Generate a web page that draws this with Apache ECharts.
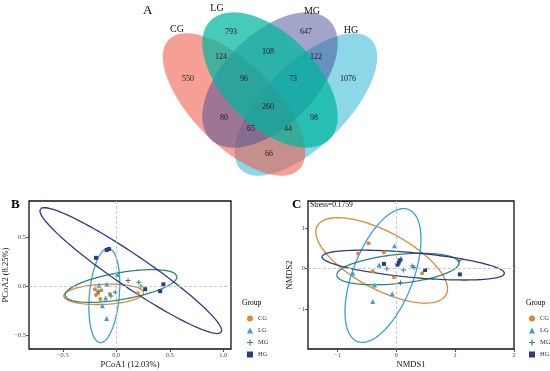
<!DOCTYPE html>
<html><head><meta charset="utf-8">
<script src="https://cdn.jsdelivr.net/npm/echarts@6/dist/echarts.min.js"></script>
<style>html,body{margin:0;padding:0;background:#fff}#c{width:550px;height:371px}</style>
</head><body><div id="c"></div>
<script>
// ---------- DATA ----------
const groups = ['CG', 'LG', 'MG', 'HG'];
// Venn (panel A)
const vennSetLabels = ['CG', 'LG', 'MG', 'HG'];
const vennRegions = ['CG', 'LG', 'MG', 'HG', 'CG&LG', 'LG&MG', 'MG&HG', 'CG&LG&MG', 'LG&MG&HG',
  'CG&LG&MG&HG', 'CG&MG', 'LG&HG', 'CG&MG&HG', 'CG&LG&HG', 'CG&HG'];
const vennCounts = [550, 793, 647, 1076, 124, 108, 122, 96, 73, 260, 80, 98, 65, 44, 66];
// PCoA (panel B)
const pcoaCG = [[-0.20, -0.03], [-0.14, -0.04], [-0.19, -0.09], [-0.06, -0.08], [0.20, -0.07], [-0.15, -0.13], [-0.17, -0.07]];
const pcoaLG = [[-0.16, 0.01], [-0.09, 0.02], [-0.10, -0.12], [-0.13, -0.20], [-0.09, -0.33], [0.01, 0.12]];
const pcoaMG = [[0.11, 0.06], [0.21, 0.04], [0.23, 0.00], [-0.01, -0.06], [-0.17, -0.05], [-0.05, -0.10]];
const pcoaHG = [[-0.19, 0.29], [-0.09, 0.37], [-0.07, 0.38], [0.27, -0.03], [0.44, 0.02], [0.41, -0.05]];
// confidence ellipses: [cx, cy, ux, uy, vx, vy] (centre + conjugate half-axes, data units)
const pcoaEllipses = [
  [-0.118, -0.082, 0.374, 0.020, 0.014, -0.102],
  [-0.112, -0.094, 0.039, 0.482, 0.139, -0.013],
  [0.044, 0.003, 0.523, 0.098, 0.021, -0.135],
  [0.135, 0.160, 0.846, -0.628, -0.084, -0.135]
];
const pcoaXTicks = [-0.5, 0, 0.5, 1.0];
const pcoaYTicks = [-0.5, 0, 0.5];
// NMDS (panel C)
const nmdsCG = [[-0.47, 0.63], [-0.65, 0.38], [-0.21, 0.40], [-0.40, -0.06], [-0.04, -0.21], [0.44, -0.11]];
const nmdsLG = [[-0.03, 0.57], [-0.74, -0.11], [-0.37, -0.40], [-0.40, -0.81], [-0.07, -0.62], [-0.29, 0.09], [0.08, 0.26]];
const nmdsMG = [[-0.16, 0.00], [0.12, -0.03], [0.07, -0.35], [0.27, 0.07], [0.30, 0.03], [1.07, 0.20]];
const nmdsHG = [[-0.21, 0.12], [0.04, 0.15], [0.06, 0.21], [0.49, -0.03], [1.08, -0.14], [0.02, 0.10]];
const nmdsEllipses = [
  [-0.248, 0.207, 1.095, -0.852, -0.229, -0.630],
  [-0.226, -0.168, -0.435, -1.637, 0.477, -0.272],
  [0.027, -0.007, -1.040, -0.156, 0.025, -0.358],
  [0.288, 0.091, 1.553, -0.209, -0.019, -0.305]
];
const nmdsXTicks = [-1, 0, 1, 2];
const nmdsYTicks = [-1, 0, 1];
const nmdsStress = 'Stress=0.1759';

// ---------- LAYOUT / STYLE ----------
const FONT = '"Liberation Serif", "Times New Roman", serif';
const groupColors = ['#D98A32', '#3E9DDB', '#2C8579', '#2D3A85'];
const plusPath = 'path://M4,0H6V4H10V6H6V10H4V6H0V4H4Z';
const groupSymbols = ['circle', 'triangle', plusPath, 'rect'];
const groupSymbolSize = [4, 5, 5, 4];
// venn ellipses: [cx, cy, a, b, rotation(rad), fill]
const vennEllipseLayout = {
  CG: [234, 104.5, 92, 41, -Math.PI / 4, 'rgba(240,92,72,0.58)'],
  LG: [270, 80, 84, 46, -Math.PI / 4, 'rgba(0,182,160,0.72)'],
  MG: [270, 80, 84, 46, Math.PI / 4, 'rgba(66,76,148,0.5)'],
  HG: [306, 104.5, 92, 41, Math.PI / 4, 'rgba(25,175,209,0.5)']
};
const vennDrawOrder = ['HG', 'CG', 'MG', 'LG'];
const vennSetLabelPos = [[177, 29], [217, 8], [312, 11], [351, 30]];
const vennRegionPos = [[188, 79], [231, 32], [306, 32], [348, 79], [221, 57], [268, 52], [316, 57],
  [244, 79], [293, 79], [268, 107], [224, 118], [314, 118], [251, 129], [288, 129], [269, 154]];

function ellipsePts(p) {
  const pts = [];
  const n = 160;
  for (let i = 0; i <= n; i++) {
    const t = 2 * Math.PI * i / n;
    pts.push([p[0] + p[2] * Math.cos(t) + p[4] * Math.sin(t), p[1] + p[3] * Math.cos(t) + p[5] * Math.sin(t)]);
  }
  return pts;
}

const chart = echarts.init(document.getElementById('c'), null, { renderer: 'canvas' });

const graphics = [];
vennDrawOrder.forEach(k => {
  const e = vennEllipseLayout[k];
  graphics.push({
    type: 'circle', shape: { cx: 0, cy: 0, r: 100 }, x: e[0], y: e[1],
    scaleX: e[2] / 100, scaleY: e[3] / 100, rotation: e[4], silent: true,
    style: { fill: e[5], stroke: 'none' }
  });
});
vennSetLabels.forEach((t, i) => graphics.push({
  type: 'text', x: vennSetLabelPos[i][0], y: vennSetLabelPos[i][1], silent: true,
  style: { text: t, font: '10px ' + FONT, fill: '#111', align: 'center', verticalAlign: 'middle', textAlign: 'center', textVerticalAlign: 'middle' }
}));
vennCounts.forEach((c, i) => graphics.push({
  type: 'text', x: vennRegionPos[i][0], y: vennRegionPos[i][1], silent: true,
  style: { text: String(c), font: '8px ' + FONT, fill: '#1a1a1a', align: 'center', verticalAlign: 'middle', textAlign: 'center', textVerticalAlign: 'middle' }
}));
const panelText = (t, x, y, font) => ({
  type: 'text', x, y, silent: true,
  style: { text: t, font, fill: '#000', align: 'left', verticalAlign: 'middle', textAlign: 'left', textVerticalAlign: 'middle' }
});
graphics.push(panelText('A', 143, 11, '13px ' + FONT));
graphics.push(panelText('B', 11, 205, 'bold 13px ' + FONT));
graphics.push(panelText('C', 292, 205, 'bold 13px ' + FONT));
graphics.push(panelText(nmdsStress, 310, 205, '7.5px ' + FONT));
graphics.push(panelText('Group', 242, 303, '7.5px ' + FONT));
graphics.push(panelText('Group', 526, 303, '7.5px ' + FONT));

function axisCommon(ticks, fmt) {
  return {
    type: 'value',
    axisLine: { show: false, onZero: false },
    axisTick: { show: true, length: 3, customValues: ticks, lineStyle: { color: '#333', width: 0.8 } },
    axisLabel: { customValues: ticks, formatter: fmt, fontSize: 6.5, color: '#4d4d4d', fontFamily: FONT, margin: 3 },
    splitLine: { show: false },
    nameLocation: 'middle',
    nameTextStyle: { fontSize: 8.5, color: '#111', fontFamily: FONT }
  };
}
const fmtB = v => (v < 0 ? '\u2212' + Math.abs(v).toFixed(1) : Number(v).toFixed(1));
const fmtC = v => (v < 0 ? '\u2212' + Math.abs(v) : '' + v);

const pcoaData = [pcoaCG, pcoaLG, pcoaMG, pcoaHG];
const nmdsData = [nmdsCG, nmdsLG, nmdsMG, nmdsHG];
const series = [];
const zeroLines = {
  silent: true, symbol: 'none', label: { show: false }, animation: false,
  lineStyle: { color: '#c4c4c4', type: [3, 2], width: 0.9 },
  data: [{ xAxis: 0 }, { yAxis: 0 }]
};
[[pcoaData, pcoaEllipses], [nmdsData, nmdsEllipses]].forEach(([dat, ells], gi) => {
  groups.forEach((g, i) => {
    series.push({
      name: g + '_ellipse_' + gi, type: 'line', xAxisIndex: gi, yAxisIndex: gi,
      data: ellipsePts(ells[i]), showSymbol: false, symbol: 'none', silent: true, z: 2,
      lineStyle: { color: groupColors[i], width: 1.3 }, animation: false
    });
    const s = {
      name: g, type: 'scatter', xAxisIndex: gi, yAxisIndex: gi, data: dat[i], z: 3,
      symbol: groupSymbols[i], symbolSize: groupSymbolSize[i],
      itemStyle: { color: groupColors[i], opacity: 1 }, animation: false
    };
    if (i === 0) s.markLine = zeroLines;
    series.push(s);
  });
});

const legendCommon = {
  orient: 'vertical', itemWidth: 6, itemHeight: 6, itemGap: 5, selectedMode: false,
  textStyle: { fontSize: 6.5, color: '#333', fontFamily: FONT },
  data: groups.map((g, i) => ({ name: g, icon: groupSymbols[i] }))
};

chart.setOption({
  animation: false,
  backgroundColor: '#fff',
  graphic: graphics,
  legend: [
    Object.assign({}, legendCommon, { left: 242, top: 310 }),
    Object.assign({}, legendCommon, { left: 524, top: 310 })
  ],
  grid: [
    { left: 29, top: 201, width: 202, height: 148, show: true, borderColor: '#111', borderWidth: 1.3, backgroundColor: 'transparent' },
    { left: 308, top: 201, width: 206, height: 148, show: true, borderColor: '#111', borderWidth: 1.3, backgroundColor: 'transparent' }
  ],
  xAxis: [
    Object.assign(axisCommon(pcoaXTicks, fmtB), { gridIndex: 0, min: -0.816, max: 1.072, name: 'PCoA1 (12.03%)', nameGap: 10 }),
    Object.assign(axisCommon(nmdsXTicks, fmtC), { gridIndex: 1, min: -1.5, max: 2.0, name: 'NMDS1', nameGap: 10 })
  ],
  yAxis: [
    Object.assign(axisCommon(pcoaYTicks, fmtB), { gridIndex: 0, min: -0.64, max: 0.87, name: 'PCoA2 (8.25%)', nameGap: 14 }),
    Object.assign(axisCommon(nmdsYTicks, fmtC), { gridIndex: 1, min: -1.99, max: 1.68, name: 'NMDS2', nameGap: 11 })
  ],
  series
});
</script></body></html>
